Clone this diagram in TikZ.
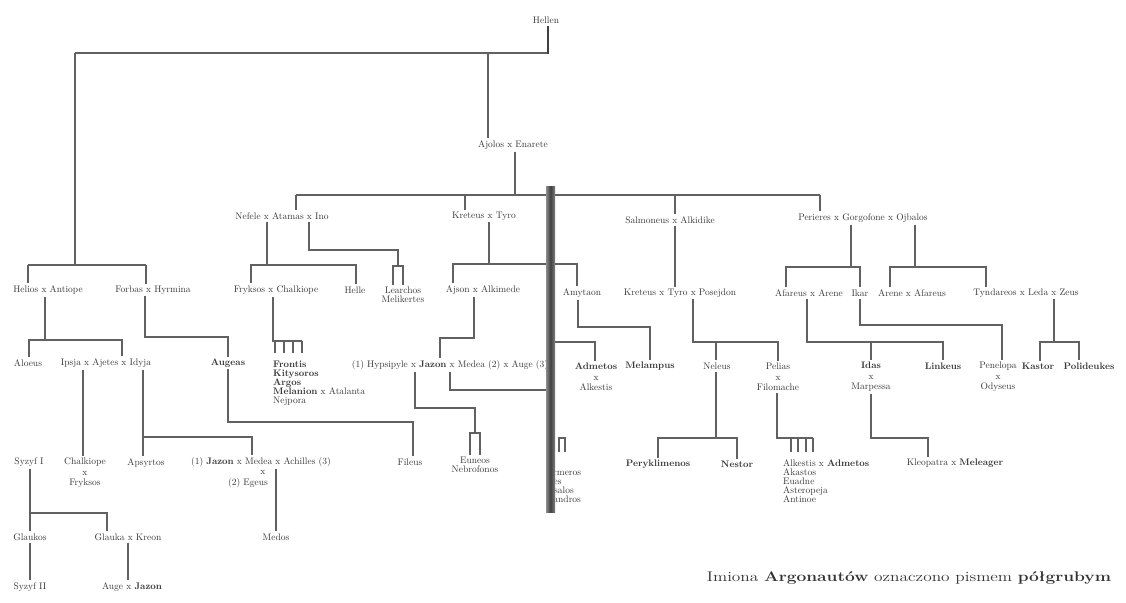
\documentclass[tikz,border=0pt]{standalone}
\usepackage{graphicx}
\begin{document}
\begin{tikzpicture}[x=1pt,y=-1pt,
  lbl/.style={font=\fontsize{9.5}{10.5}\selectfont, text=black!78, inner xsep=0pt, inner ysep=2pt, align=center},
  lst/.style={font=\fontsize{9.5}{9}\selectfont, text=black!78, inner sep=0pt, align=left, anchor=north west},
  ln/.style={draw=black!62, line width=1.15pt},
  heavy/.style={draw=black!75, line width=2.6pt},
]
\useasboundingbox[fill=white] (0,0) rectangle (1126,602);

% ---------- nodes ----------
\node[lbl] (top) at (546,20) {Hellen};
\node[lbl] (ajolos) at (513,145) {Ajolos x Enarete};
\node[lbl] (nefele) at (282,216) {Nefele x Atamas x Ino};
\node[lbl] (kreteus) at (484,216) {Kreteus x Tyro};
\node[lbl] (salmon) at (670,220) {Salmoneus x Alkidike};
\node[lbl] (perieres) at (863,218) {Perieres x Gorgofone x Ojbalos};

\node[lbl] (helios) at (48,290) {Helios x Antiope};
\node[lbl] (forbas) at (153,290) {Forbas x Hyrmina};
\node[lbl] (fryksos) at (276,290) {Fryksos x Chalkiope};
\node[lbl] (helle) at (355,290) {Helle};
\node[lbl, font=\fontsize{9.5}{9.5}\selectfont] (learchos) at (403,295) {Learchos\\Melikertes};
\node[lbl] (ajson) at (483,290) {Ajson x Alkimede};
\node[lbl] (amytaon) at (582,293) {Amytaon};
\node[lbl] (kreteus2) at (680,293) {Kreteus x Tyro x Posejdon};
\node[lbl] (afareus) at (809,293) {Afareus x Arene};
\node[lbl] (ikar) at (860,293) {Ikar};
\node[lbl] (arene) at (912,293) {Arene x Afareus};
\node[lbl] (tyndar) at (1026,293) {Tyndareos x Leda x Zeus};

\node[lbl] (aloeus) at (28,363) {Aloeus};
\node[lbl] (ajetes) at (106,363) {Ipsja x Ajetes x Idyja};
\node[lbl] (augeas) at (228,363) {\textbf{Augeas}};
\node[lst] (synowie) at (273,361) {\textbf{Frontis}\\\textbf{Kitysoros}\\\textbf{Argos}\\\textbf{Melanion} x Atalanta\\Nejpora};
\node[lbl] (jazon1) at (450,365) {(1) Hypsipyle x \textbf{Jazon} x Medea (2) x Auge (3)};
\node[lbl] (admetos) at (596,377) {\textbf{Admetos}\\x\\Alkestis};
\node[lbl] (melampus) at (650,366) {\textbf{Melampus}};
\node[lbl] (neleus) at (717,366) {Neleus};
\node[lbl] (pelias) at (778,377) {Pelias\\x\\Filomache};
\node[lbl] (idas) at (871,377) {\textbf{Idas}\\x\\Marpessa};
\node[lbl] (linkeus) at (943,366) {\textbf{Linkeus}};
\node[lbl] (penelopa) at (998,377) {Penelopa\\x\\Odyseus};
\node[lbl] (kastor) at (1038,366) {\textbf{Kastor}};
\node[lbl] (polid) at (1089,366) {\textbf{Polideukes}};

\node[lbl] (syzyf1) at (29,462) {Syzyf I};
\node[lbl] (chalk) at (85,473) {Chalkiope\\x\\Fryksos};
\node[lbl] (apsyrt) at (146,463) {Apsyrtos};
\node[lbl] (jazon2) at (261,462) {(1) \textbf{Jazon} x Medea x Achilles (3)};
\node[lbl] (jx) at (263,472) {x};
\node[lbl] (egeus) at (248,483) {(2) Egeus};
\node[lbl] (fileus) at (410,462) {Fileus};
\node[lbl, font=\fontsize{9.5}{9.5}\selectfont] (euneos) at (475,465) {Euneos\\Nebrofonos};
\node[lbl] (peryk) at (658,464) {\textbf{Peryklimenos}};
\node[lbl] (nestor) at (737,464) {\textbf{Nestor}};
\node[lst] (corki) at (783,459) {Alkestis x \textbf{Admetos}\\Akastos\\Euadne\\Asteropeja\\Antinoe};
\node[lbl] (kleopatra) at (955,463) {Kleopatra x \textbf{Meleager}};

\node[lbl] (glaukos) at (30,537) {Glaukos};
\node[lbl] (glauka) at (128,537) {Glauka x Kreon};
\node[lbl] (medos) at (276,537) {Medos};
\node[lbl] (syzyf2) at (30,587) {Syzyf II};
\node[lbl] (auge) at (132,587) {Auge x \textbf{Jazon}};

\node[font=\fontsize{14}{16}\selectfont, text=black!80, inner sep=0pt] (foot) at (909,578)
  {\scalebox{1.24}[1]{Imiona \textbf{Argonautów} oznaczono pismem \textbf{półgrubym}}};

% children of Jazon and Medea, half hidden in the gutter
\begin{scope}
\clip (554,430) rectangle (620,515);
\node[lst] (dzieci) at (540,459) {(1)\\Mermeros\\Feres\\Tessalos\\Tisandros};
\end{scope}

% ---------- connectors ----------
\draw[ln] (75,53) -- (548,53);
\draw[heavy] (548,0 |- top.south) -- (548,54);
\draw[ln] (75,53) -- (75,265);
\draw[ln] (488,53) -- (488,0 |- ajolos.north);
\draw[ln] (28,265) -- (146,265);
\draw[ln] (28,265) -- (28,0 |- helios.north);
\draw[ln] (146,265) -- (146,0 |- forbas.north);

\draw[ln] (515,0 |- ajolos.south) -- (515,195);
\draw[ln] (296,195) -- (820,195);
\draw[ln] (296,195) -- (296,0 |- nefele.north);
\draw[ln] (465,195) -- (465,0 |- kreteus.north);
\draw[ln] (675,195) -- (675,0 |- salmon.north);
\draw[ln] (820,195) -- (820,0 |- perieres.north);

\draw[ln] (267,0 |- nefele.south) -- (267,265);
\draw[ln] (251,0 |- fryksos.north) -- (251,265) -- (356,265) -- (356,0 |- helle.north);
\draw[ln] (309,0 |- nefele.south) -- (309,250) -- (398,250) -- (398,266);
\draw[ln] (393,0 |- learchos.north) -- (393,266) -- (403,266) -- (403,0 |- learchos.north);

\draw[ln] (489,0 |- kreteus.south) -- (489,264);
\draw[ln] (453,0 |- ajson.north) -- (453,264) -- (577,264) -- (577,0 |- amytaon.north);

\draw[ln] (675,0 |- salmon.south) -- (675,0 |- kreteus2.north);

\draw[ln] (851,0 |- perieres.south) -- (851,267);
\draw[ln] (786,0 |- afareus.north) -- (786,267) -- (860,267) -- (860,0 |- ikar.north);
\draw[ln] (915,0 |- perieres.south) -- (915,267);
\draw[ln] (890,0 |- arene.north) -- (890,267) -- (986,267) -- (986,0 |- tyndar.north);

\draw[ln] (45,0 |- helios.south) -- (45,340);
\draw[ln] (29,0 |- aloeus.north) -- (29,340) -- (122,340) -- (122,0 |- ajetes.north);
\draw[ln] (145,0 |- forbas.south) -- (145,337) -- (228,337) -- (228,0 |- augeas.north);

\draw[ln] (273,0 |- fryksos.south) -- (273,341) -- (302,341);
\foreach \tx in {275,284,293,302} \draw[ln] (\tx,341) -- (\tx,353);

\draw[ln] (474,0 |- ajson.south) -- (474,338) -- (440,338) -- (440,0 |- jazon1.north);
\draw[ln] (578,0 |- amytaon.south) -- (578,327) -- (650,327) -- (650,0 |- melampus.north);
\draw[ln] (552,342) -- (595,342) -- (595,0 |- admetos.north);

\draw[ln] (693,0 |- kreteus2.south) -- (693,342) -- (778,342) -- (778,0 |- pelias.north);
\draw[ln] (716,342) -- (716,0 |- neleus.north);
\draw[ln] (807,0 |- afareus.south) -- (807,342) -- (943,342) -- (943,0 |- linkeus.north);
\draw[ln] (871,342) -- (871,0 |- idas.north);
\draw[ln] (860,0 |- ikar.south) -- (860,325) -- (1002,325) -- (1002,0 |- penelopa.north);
\draw[ln] (1054,0 |- tyndar.south) -- (1054,342);
\draw[ln] (1040,0 |- kastor.north) -- (1040,342) -- (1079,342) -- (1079,0 |- polid.north);

\draw[ln] (716,0 |- neleus.south) -- (716,438);
\draw[ln] (658,0 |- peryk.north) -- (658,438) -- (737,438) -- (737,0 |- nestor.north);
\draw[ln] (777,0 |- pelias.south) -- (777,438) -- (813,438);
\foreach \tx in {791,798,806,813} \draw[ln] (\tx,438) -- (\tx,452);
\draw[ln] (871,0 |- idas.south) -- (871,438) -- (928,438) -- (928,0 |- kleopatra.north);

\draw[ln] (83,0 |- ajetes.south) -- (83,0 |- chalk.north);
\draw[ln] (143,0 |- ajetes.south) -- (143,0 |- apsyrt.north);
\draw[ln] (143,437) -- (252,437) -- (252,0 |- jazon2.north);
\draw[ln] (228,0 |- augeas.south) -- (228,422) -- (413,422) -- (413,0 |- fileus.north);

\draw[ln] (415,0 |- jazon1.south) -- (415,408) -- (475,408) -- (475,433);
\draw[ln] (470,0 |- euneos.north) -- (470,433) -- (480,433) -- (480,0 |- euneos.north);
\draw[ln] (450,0 |- jazon1.south) -- (450,390) -- (553,390);

\draw[ln] (559,452) -- (559,438) -- (565,438) -- (565,452);

\draw[ln] (30,0 |- syzyf1.south) -- (30,0 |- glaukos.north);
\draw[ln] (30,513) -- (107,513) -- (107,0 |- glauka.north);
\draw[ln] (276,0 |- jazon2.south) -- (276,0 |- medos.north);
\draw[ln] (30,0 |- glaukos.south) -- (30,0 |- syzyf2.north);
\draw[ln] (128,0 |- glauka.south) -- (128,0 |- auge.north);

% book gutter
\shade[left color=black!45, right color=black!50, middle color=black!75] (546,186) rectangle (555,512);
\end{tikzpicture}
\end{document}
